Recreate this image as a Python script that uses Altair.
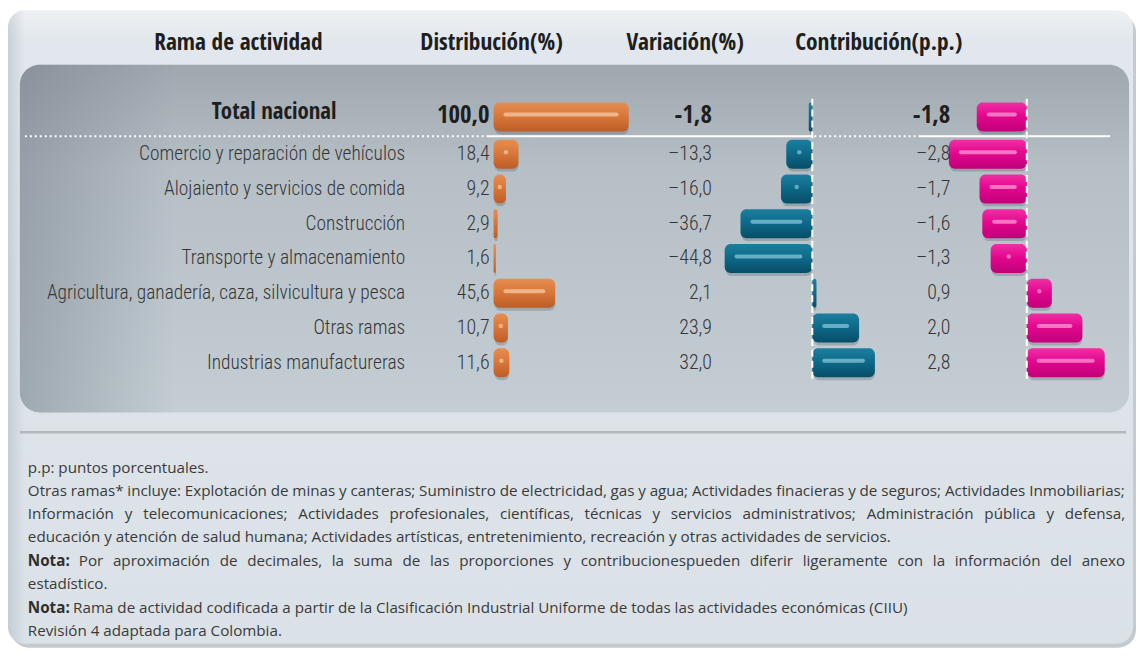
import unicodedata
import altair as alt
import pandas as pd

# ---------------- data ----------------
ramas = [
    "Total nacional",
    "Comercio y reparación de vehículos",
    "Alojaiento y servicios de comida",
    "Construcción",
    "Transporte y almacenamiento",
    "Agricultura, ganadería, caza, silvicultura y pesca",
    "Otras ramas",
    "Industrias manufactureras",
]
distribucion = [100.0, 18.4, 9.2, 2.9, 1.6, 45.6, 10.7, 11.6]
variacion = [-1.8, -13.3, -16.0, -36.7, -44.8, 2.1, 23.9, 32.0]
contribucion = [-1.8, -2.8, -1.7, -1.6, -1.3, 0.9, 2.0, 2.8]

encabezados = ["Rama de actividad", "Distribución(%)", "Variación(%)", "Contribución(p.p.)"]

notas = [
    "p.p: puntos porcentuales.",
    "Otras ramas* incluye: Explotación de minas y canteras; Suministro de electricidad, gas y agua; Actividades finacieras y de seguros; Actividades Inmobiliarias;",
    "Información y telecomunicaciones; Actividades profesionales, científicas, técnicas y servicios administrativos; Administración pública y defensa,",
    "educación y atención de salud humana; Actividades artísticas, entretenimiento, recreación y otras actividades de servicios.",
    "Por aproximación de decimales, la suma de las proporciones y contribucionespueden diferir ligeramente con la información del anexo",
    "estadístico.",
    "Rama de actividad codificada a partir de la Clasificación Industrial Uniforme de todas las actividades económicas (CIIU)",
    "Revisión 4 adaptada para Colombia.",
]
notas_prefijo = ["", "", "", "", "Nota:", "", "Nota:", ""]
notas_justificadas = [False, True, True, False, True, False, False, False]

# ---------------- layout / style ----------------
W, H = 1137, 642
HEAD = "'Open Sans Condensed', 'Roboto Condensed', sans-serif"
COND = "'Roboto Condensed', 'DejaVu Sans Condensed', sans-serif"
SANS = "'Open Sans', sans-serif"
FS_NOTA = 15.3
NOTA_Y = [461, 484, 507, 531, 555, 578, 602, 625]
NOTA_X0, NOTA_X1 = 20, 1125


def fmt(v, guion):
    s = f"{abs(v):.1f}".replace(".", ",")
    return guion + s if v < 0 else s


filas = []
for i, r in enumerate(ramas):
    g = "-" if i == 0 else "\u2013"
    filas.append(dict(rama=r, fila=i,
                      distr=distribucion[i], varia=variacion[i], contr=contribucion[i],
                      distr_lbl=fmt(distribucion[i], g), varia_lbl=fmt(variacion[i], g),
                      contr_lbl=fmt(contribucion[i], g)))
df = pd.DataFrame(filas)
uno = pd.DataFrame({"k": [0]})

# Open Sans advance widths (em), used to justify the note lines
ANCHO = {" ": 0.26, "a": 0.556, "b": 0.613, "c": 0.476, "d": 0.613, "e": 0.561, "f": 0.339,
         "g": 0.548, "h": 0.614, "i": 0.253, "j": 0.253, "k": 0.525, "l": 0.253, "m": 0.93,
         "n": 0.614, "o": 0.604, "p": 0.613, "q": 0.613, "r": 0.408, "s": 0.477, "t": 0.353,
         "u": 0.614, "v": 0.501, "w": 0.778, "x": 0.524, "y": 0.502, "z": 0.477,
         "A": 0.633, "B": 0.648, "C": 0.631, "D": 0.729, "E": 0.556, "F": 0.516, "G": 0.728,
         "H": 0.738, "I": 0.279, "J": 0.267, "K": 0.614, "L": 0.524, "M": 0.903, "N": 0.76,
         "O": 0.781, "P": 0.596, "Q": 0.781, "R": 0.625, "S": 0.549, "T": 0.552, "U": 0.734,
         "V": 0.591, "W": 0.898, "X": 0.575, "Y": 0.55, "Z": 0.556,
         ",": 0.245, ".": 0.266, ":": 0.266, ";": 0.266, "(": 0.297, ")": 0.297, "*": 0.547,
         "-": 0.322}


def ancho(txt, size, bold=False):
    tot = 0.0
    for ch in txt:
        base = unicodedata.normalize("NFD", ch)[0]
        tot += ANCHO.get(base, 0.572)
    return tot * size * (1.07 if bold else 1.0)


pal = []
for i, linea in enumerate(notas):
    y = NOTA_Y[i]
    pref = notas_prefijo[i]
    if notas_justificadas[i]:
        words = ([(pref, True)] if pref else []) + [(w, False) for w in linea.split()]
        fs = FS_NOTA
        natural = sum(ancho(w, fs, b) for w, b in words) + ancho(" ", fs) * 0.8 * (len(words) - 1)
        if natural > NOTA_X1 - NOTA_X0:
            fs = fs * (NOTA_X1 - NOTA_X0) / natural
        ws = [ancho(w, fs, b) for w, b in words]
        gap = (NOTA_X1 - NOTA_X0 - sum(ws)) / (len(words) - 1)
        x = NOTA_X0
        for (w, b), wd in zip(words, ws):
            pal.append(dict(texto=w, x=x, y=y, negrita=b, fs=fs))
            x += wd + gap
    else:
        x = NOTA_X0
        if pref:
            pal.append(dict(texto=pref, x=x, y=y, negrita=True, fs=FS_NOTA))
            x += ancho(pref, FS_NOTA, True) + ancho(" ", FS_NOTA)
        pal.append(dict(texto=linea, x=x, y=y, negrita=False, fs=FS_NOTA))
palabras = pd.DataFrame(pal)


def vgrad(stops):
    return alt.Gradient(gradient="linear",
                        stops=[alt.GradientStop(color=c, offset=o) for o, c in stops],
                        x1=0, x2=0, y1=0, y2=1)


def hgrad(stops):
    return alt.Gradient(gradient="linear",
                        stops=[alt.GradientStop(color=c, offset=o) for o, c in stops],
                        x1=0, x2=1, y1=0, y2=0)


layers = []

# ---------------- panels ----------------
layers.append(alt.Chart(uno).mark_rect(cornerRadius=18, color="#c3cad0").encode(
    x=alt.value(3), x2=alt.value(1136), y=alt.value(4), y2=alt.value(642)))
layers.append(alt.Chart(uno).mark_rect(cornerRadius=17, color=vgrad(
    [(0, "#eef1f4"), (0.05, "#e1e7ec"), (1, "#dae1e7")])).encode(
    x=alt.value(0), x2=alt.value(1133), y=alt.value(0), y2=alt.value(638)))
layers.append(alt.Chart(uno).mark_rect(cornerRadius=17, color=hgrad(
    [(0, "rgba(170,180,190,0.45)"), (0.015, "rgba(170,180,190,0)"), (1, "rgba(170,180,190,0)")])).encode(
    x=alt.value(0), x2=alt.value(1133), y=alt.value(0), y2=alt.value(638)))
# inner panel
layers.append(alt.Chart(uno).mark_rect(cornerRadius=20, color=vgrad(
    [(0, "#9fa7af"), (0.3, "#b6bfc6"), (1, "#c3cdd3")])).encode(
    x=alt.value(12), x2=alt.value(1129), y=alt.value(55), y2=alt.value(405)))
layers.append(alt.Chart(uno).mark_rect(cornerRadius=20, color=hgrad(
    [(0, "rgba(105,114,124,0.40)"), (0.14, "rgba(105,114,124,0)"), (1, "rgba(105,114,124,0)")])).encode(
    x=alt.value(12), x2=alt.value(1129), y=alt.value(55), y2=alt.value(405)))
# separator above the notes
layers.append(alt.Chart(uno).mark_rule(color="#b4b8bc", strokeWidth=2.5).encode(
    x=alt.value(12), x2=alt.value(1126), y=alt.value(425)))
# white line under total row
for x0, x1, dotted in [(17, 482, True), (482, 810, False), (812, 917, True), (917, 1110, False)]:
    kw = dict(strokeDash=[2, 3]) if dotted else {}
    layers.append(alt.Chart(uno).mark_rule(color="white", strokeWidth=2, **kw).encode(
        x=alt.value(x0), x2=alt.value(x1), y=alt.value(127)))

# ---------------- headers ----------------
for t, cx in zip(encabezados, [232, 487, 682, 877]):
    layers.append(alt.Chart(uno).mark_text(
        text=t, font=HEAD, fontSize=23.5, fontWeight="bold", color="#1e1e1e",
        align="center", baseline="middle").encode(x=alt.value(cx), y=alt.value(33)))

# ---------------- rows ----------------
YR = alt.Y("rama:N", scale=alt.Scale(type="point", domain=ramas[1:], range=[145, 355], padding=0),
           axis=None)

SD = alt.Scale(domain=[0, 100], range=[489, 625], nice=False)
SV = alt.Scale(domain=[-50, 50], range=[711.5, 908.5], nice=False)
SC = alt.Scale(domain=[-3, 3], range=[942, 1110], nice=False)

naranja = vgrad([(0, "#e68d50"), (0.45, "#d9783b"), (1, "#bd5d27")])
azul = vgrad([(0, "#1c7f9f"), (0.45, "#0e6a8a"), (1, "#074e68")])
magenta = vgrad([(0, "#f12fa5"), (0.45, "#e4078f"), (1, "#c00079")])

columnas = [
    ("distr", SD, naranja, "#f8cfae", 30, 5, 485),
    ("varia", SV, azul, "#8fcbe0", 20, 5, 709),
    ("contr", SC, magenta, "#ffa3d8", 1.5, 0.5, 949),
]

for f, S, grad, hic, thr, dthr, lx in columnas:
    calc = dict(lo=f"min(0, datum.{f})", hi=f"max(0, datum.{f})",
                mid=f"datum.{f} / 2", mag=f"abs(datum.{f})")
    X = alt.X("lo:Q", scale=S, axis=None)
    rows = alt.Chart(df).transform_filter("datum.fila > 0").transform_calculate(**calc)
    tot = alt.Chart(df).transform_filter("datum.fila == 0").transform_calculate(**calc)

    # shadows
    layers.append(rows.mark_bar(size=29, cornerRadius=6, color="#2b3741", opacity=0.22,
                                yOffset=3, xOffset=1, orient="horizontal").encode(
        x=X, x2="hi:Q", y=YR))
    layers.append(tot.mark_rect(cornerRadius=6, color="#2b3741", opacity=0.22, xOffset=1).encode(
        x=X, x2="hi:Q", y=alt.value(96), y2=alt.value(125)))
    # bars
    layers.append(rows.mark_bar(size=29, cornerRadius=6, color=grad, orient="horizontal").encode(
        x=X, x2="hi:Q", y=YR))
    layers.append(tot.mark_rect(cornerRadius=6, color=grad).encode(
        x=X, x2="hi:Q", y=alt.value(93), y2=alt.value(122)))
    # glossy highlights
    layers.append(rows.transform_filter(f"datum.mag >= {thr}").mark_rule(
        color=hic, strokeWidth=4, strokeCap="round", opacity=0.7,
        xOffset=12, x2Offset=-12, yOffset=-2).encode(x=X, x2="hi:Q", y=YR))
    layers.append(tot.transform_filter(f"datum.mag >= {thr}").mark_rule(
        color=hic, strokeWidth=4, strokeCap="round", opacity=0.7,
        xOffset=12, x2Offset=-12).encode(x=X, x2="hi:Q", y=alt.value(105)))
    layers.append(rows.transform_filter(f"datum.mag >= {dthr} && datum.mag < {thr}").mark_circle(
        color=hic, size=20, opacity=0.65, yOffset=-2).encode(
        x=alt.X("mid:Q", scale=S, axis=None), y=YR))
    # value labels
    layers.append(alt.Chart(df).transform_filter("datum.fila > 0").mark_text(
        align="right", baseline="middle", font=COND, fontSize=20, fontWeight=300,
        color="#363636").encode(x=alt.value(lx), y=YR, text=f"{f}_lbl:N"))
    layers.append(alt.Chart(df).transform_filter("datum.fila == 0").mark_text(
        align="right", baseline="middle", font=HEAD, fontSize=25, fontWeight="bold",
        color="#1e1e1e").encode(x=alt.value(lx), y=alt.value(106), text=f"{f}_lbl:N"))

# zero lines
for S in (SV, SC):
    layers.append(alt.Chart(uno).mark_rule(color="white", strokeWidth=2, strokeDash=[7, 4]).encode(
        x=alt.XDatum(0, type="quantitative", scale=S, axis=None),
        y=alt.value(89), y2=alt.value(372)))

# row names
layers.append(alt.Chart(df).transform_filter("datum.fila > 0").mark_text(
    align="right", baseline="middle", font=COND, fontSize=19.5, fontWeight=300,
    color="#363636").encode(x=alt.value(400), y=YR, text="rama:N"))
layers.append(alt.Chart(df).transform_filter("datum.fila == 0").mark_text(
    align="center", baseline="middle", font=HEAD, fontSize=23, fontWeight="bold",
    color="#1e1e1e").encode(x=alt.value(268), y=alt.value(103), text="rama:N"))

# ---------------- notes ----------------
layers.append(alt.Chart(palabras).transform_filter("datum.negrita").mark_text(
    align="left", baseline="middle", font=SANS, fontWeight="bold",
    color="#2e2e2e").encode(x=alt.X("x:Q", scale=None), y=alt.Y("y:Q", scale=None),
                            size=alt.Size("fs:Q", scale=None, legend=None), text="texto:N"))
layers.append(alt.Chart(palabras).transform_filter("!datum.negrita").mark_text(
    align="left", baseline="middle", font=SANS,
    color="#3a3a3a").encode(x=alt.X("x:Q", scale=None), y=alt.Y("y:Q", scale=None),
                            size=alt.Size("fs:Q", scale=None, legend=None), text="texto:N"))

chart = alt.layer(*layers).resolve_scale(x="independent", y="independent").properties(
    width=W, height=H, padding=0, autosize=alt.AutoSizeParams(type="none"),
    background="white",
).configure_view(strokeWidth=0)

chart.save("out.html", embed_options={"renderer": "svg", "actions": False})
